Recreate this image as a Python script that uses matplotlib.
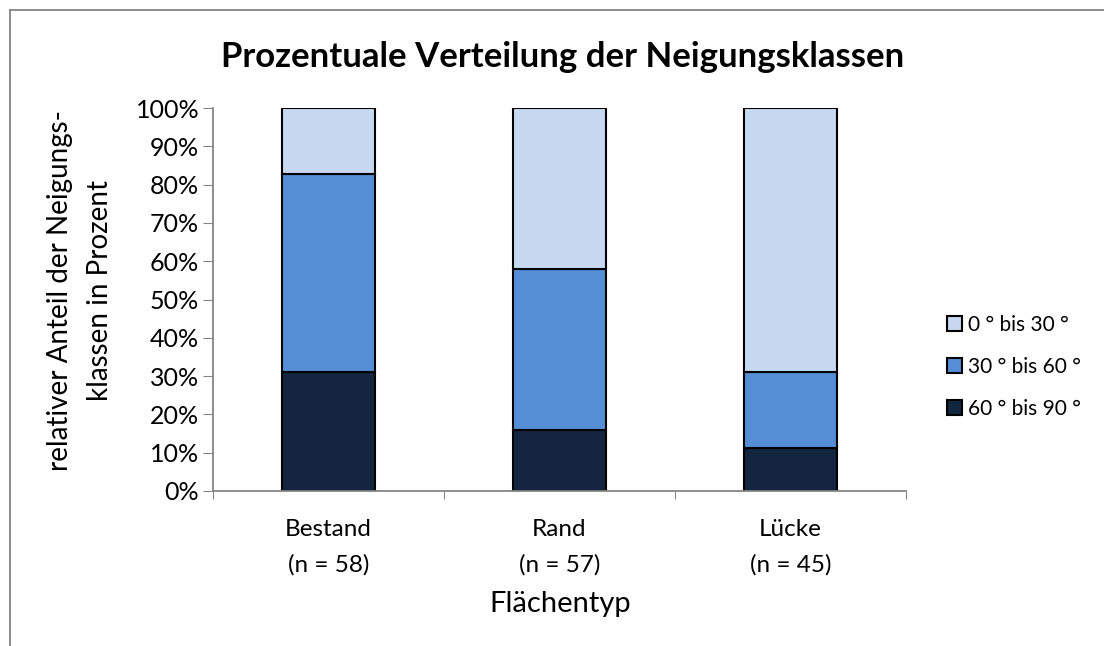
import matplotlib
matplotlib.use("Agg")
import matplotlib.pyplot as plt
from matplotlib.lines import Line2D
from matplotlib.ticker import PercentFormatter

plt.rcParams['font.family'] = ['Lato', 'DejaVu Sans']

categories = ["Bestand\n(n = 58)", "Rand\n(n = 57)", "Lücke\n(n = 45)"]
series_names = ["60 ° bis 90 °", "30 ° bis 60 °", "0 ° bis 30 °"]
steep = [31.0, 15.8, 11.1]      # 60-90
medium = [51.7, 42.1, 20.0]     # 30-60
flat = [17.3, 42.1, 68.9]       # 0-30
colors = ["#13253F", "#558ED5", "#C6D9F1"]

W, H = 1104, 646
fig = plt.figure(figsize=(W / 100, H / 100), dpi=100)
ax = fig.add_axes([213 / W, 1 - 491 / H, (906 - 213) / W, (491 - 108) / H])

x = list(range(len(categories)))
bottom = [0.0] * len(categories)
for vals, name, col in zip([steep, medium, flat], series_names, colors):
    ax.bar(x, vals, width=0.4, bottom=bottom, color=col, edgecolor="black", linewidth=1.5, label=name)
    bottom = [b + v for b, v in zip(bottom, vals)]

ax.set_xlim(-0.5, 2.5)
ax.set_ylim(0, 100)
ax.set_yticks(range(0, 101, 10))
ax.yaxis.set_major_formatter(PercentFormatter(decimals=0))
ax.set_xticks([-0.5, 0.5, 1.5, 2.5], minor=False)
ax.set_xticklabels([])
ax.set_xticks(x, minor=True)
ax.set_xticklabels(categories, minor=True, fontsize=17.5, linespacing=1.8)
ax.tick_params(axis='x', which='minor', length=0, pad=20)
ax.tick_params(axis='x', which='major', length=6, color="#868686", direction='out')
ax.tick_params(axis='y', length=7, color="#868686", labelsize=18, pad=3)

for s in ["top", "right"]:
    ax.spines[s].set_visible(False)
for s in ["left", "bottom"]:
    ax.spines[s].set_color("#868686")
    ax.spines[s].set_linewidth(1.3)

fig.text(563 / W, 1 - 57 / H, "Prozentuale Verteilung der Neigungsklassen", ha="center", va="center",
         fontsize=25, fontweight="bold")
fig.text(80 / W, 1 - 290 / H, "relativer Anteil der Neigungs-\nklassen in Prozent", ha="center", va="center",
         rotation=90, fontsize=20, linespacing=1.65)
fig.text(560 / W, 1 - 604 / H, "Flächentyp", ha="center", va="center", fontsize=21)

h, l = ax.get_legend_handles_labels()
fig.legend(h[::-1], l[::-1], loc="center left", bbox_to_anchor=(947 / W, 1 - 367 / H), frameon=False,
           fontsize=15, handlelength=0.72, handleheight=0.72, handletextpad=0.3, labelspacing=1.05,
           borderpad=0, borderaxespad=0)

fig.add_artist(Line2D([9.5 / W, 1], [1 - 9.5 / H, 1 - 9.5 / H], transform=fig.transFigure, color="#868686", lw=1.3))
fig.add_artist(Line2D([9.5 / W, 9.5 / W], [0, 1 - 9.5 / H], transform=fig.transFigure, color="#868686", lw=1.3))

fig.savefig("out.png", dpi=100)
